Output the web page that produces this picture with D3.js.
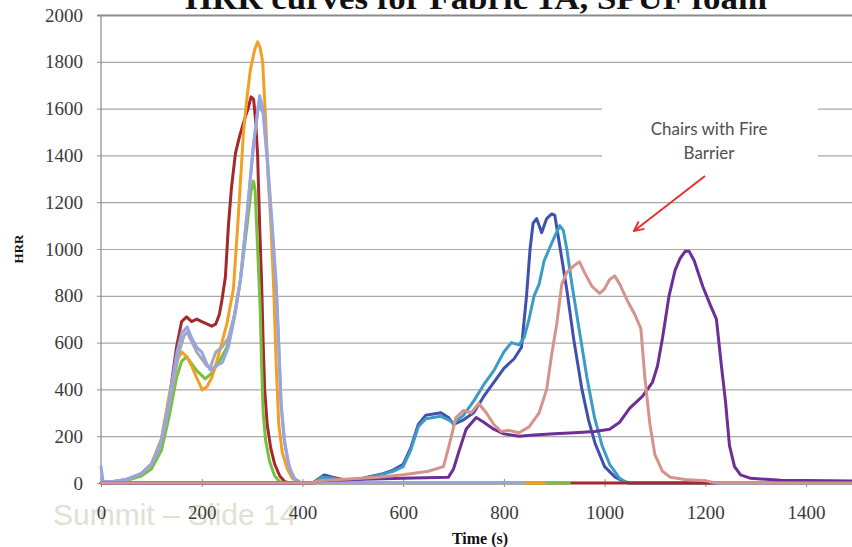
<!DOCTYPE html>
<html>
<head>
<meta charset="utf-8">
<script src="https://cdn.jsdelivr.net/npm/d3@7"></script>
<style>
  body { margin: 0; background: #fff; }
  svg { display: block; }
  .serif { font-family: "Liberation Serif", "Times New Roman", serif; }
</style>
</head>
<body>
<div class="canvas"></div>
<script>
// tick labels
const xTicks = [0, 200, 400, 600, 800, 1000, 1200, 1400];
const yTicks = [0, 200, 400, 600, 800, 1000, 1200, 1400, 1600, 1800, 2000];

// chairs without barrier  [time s, HRR kW]
const redSeries = [[0,0],[20,3],[50,12],[80,40],[100,80],[120,180],[135,350],[150,580],[160,690],[170,710],[180,690],[190,700],[200,690],[210,680],[220,670],[228,680],[235,720],[240,780],[247,880],[253,1100],[259,1260],[267,1410],[275,1480],[283,1540],[292,1600],[298,1650],[303,1640],[307,1550],[311,1400],[315,1100],[319,850],[322,600],[325,400],[330,250],[337,150],[345,80],[355,30],[365,5],[375,0],[1220,0]];
const greenSeries = [[0,0],[20,3],[50,10],[80,30],[100,60],[120,140],[135,280],[150,450],[160,520],[170,540],[180,510],[190,480],[200,460],[207,445],[220,470],[235,520],[250,580],[262,680],[277,870],[290,1100],[298,1250],[303,1290],[306,1250],[310,1050],[313,900],[316,750],[319,500],[322,300],[327,180],[335,90],[345,30],[355,5],[365,0],[930,0]];
const orangeSeries = [[0,0],[20,3],[50,12],[80,40],[100,80],[120,190],[135,370],[150,520],[160,560],[170,540],[180,500],[190,450],[201,398],[210,410],[220,450],[230,520],[240,600],[250,680],[256,750],[263,830],[273,1150],[283,1500],[290,1650],[297,1770],[305,1850],[311,1885],[316,1860],[321,1800],[327,1550],[332,1300],[337,1120],[343,830],[348,500],[353,250],[360,130],[370,60],[380,20],[390,5],[400,0],[880,0]];
const graySeries = [[0,0],[20,5],[50,15],[80,40],[100,80],[115,140],[125,220],[135,330],[145,440],[155,560],[165,630],[171,645],[190,560],[210,500],[217,495],[228,560],[240,580],[253,620],[265,720],[277,870],[290,1150],[303,1450],[313,1620],[322,1580],[330,1380],[340,1080],[348,820],[353,580],[358,330],[365,170],[374,70],[384,20],[398,0],[420,0]];
const lavenderSeries = [[0,70],[4,8],[20,5],[50,15],[80,40],[100,80],[120,180],[135,350],[150,550],[160,640],[171,667],[180,620],[190,580],[200,560],[210,510],[217,483],[228,500],[241,515],[253,580],[267,730],[277,870],[290,1150],[303,1450],[315,1655],[322,1600],[330,1400],[340,1100],[348,850],[353,600],[357,350],[363,200],[371,90],[380,30],[390,5],[400,0],[840,0]];

// chairs with fire barrier
const blueSeries = [[0,0],[420,0],[430,15],[443,34],[460,25],[480,15],[500,15],[520,20],[540,30],[560,40],[580,55],[600,80],[615,150],[630,250],[645,290],[660,295],[675,300],[690,280],[700,250],[720,270],[740,300],[760,370],[780,430],[800,490],[820,530],[835,580],[845,800],[852,1000],[858,1110],[865,1130],[875,1070],[885,1130],[895,1150],[901,1145],[912,1000],[925,825],[939,610],[955,400],[968,270],[981,170],[1000,70],[1021,25],[1040,5],[1050,0],[1500,0]];
const tealSeries = [[0,0],[420,0],[440,25],[460,20],[480,12],[500,12],[520,18],[540,28],[560,38],[580,50],[600,70],[615,140],[630,240],[645,275],[660,280],[675,285],[690,270],[700,255],[720,290],[740,350],[760,420],[780,480],[800,560],[815,600],[830,590],[840,620],[850,700],[860,800],[870,850],[880,950],[890,1000],[900,1050],[911,1100],[918,1080],[925,1000],[935,850],[950,650],[965,450],[980,280],[995,160],[1010,80],[1030,20],[1045,0],[1500,0]];
const purpleSeries = [[0,0],[420,0],[430,10],[500,15],[600,20],[690,25],[700,60],[710,130],[725,230],[745,280],[760,260],[780,230],[800,210],[830,200],[860,205],[900,210],[940,215],[980,220],[1010,230],[1030,260],[1050,320],[1075,370],[1095,430],[1105,500],[1115,620],[1128,800],[1140,910],[1150,960],[1160,990],[1168,990],[1178,950],[1195,840],[1210,760],[1222,700],[1232,500],[1240,350],[1248,160],[1258,70],[1270,35],[1290,20],[1350,12],[1500,8]];
const salmonSeries = [[0,0],[420,0],[430,10],[500,18],[550,25],[600,35],[650,50],[680,70],[690,150],[705,280],[720,310],[735,300],[750,340],[765,300],[780,250],[795,220],[810,225],[830,215],[850,240],[870,300],[885,400],[895,550],[905,680],[915,850],[925,900],[940,930],[950,945],[960,900],[975,840],[990,810],[1000,830],[1010,870],[1020,885],[1030,850],[1045,780],[1060,720],[1072,660],[1080,450],[1090,250],[1100,120],[1115,50],[1130,25],[1160,15],[1200,10],[1220,0],[1500,0]];

// drawing order (bottom to top) and colours
const seriesList = [
  {data: blueSeries, color: '#4150ae'},
  {data: tealSeries, color: '#3b9cc7'},
  {data: redSeries, color: '#a3292c'},
  {data: greenSeries, color: '#78bf3f'},
  {data: orangeSeries, color: '#f2a024'},
  {data: graySeries, color: '#a7a8b4'},
  {data: lavenderSeries, color: '#98a5e0'},
  {data: purpleSeries, color: '#6d2f96'},
  {data: salmonSeries, color: '#d6938c'}
];

const width = 852, height = 547;
const plotLeft = 101, plotRight = 852;

const svg = d3.select('.canvas')
  .append('svg')
  .attr('width', width)
  .attr('height', height);

const x = d3.scaleLinear().domain([0, 1500]).range([101, 856.4]);
const y = d3.scaleLinear().domain([0, 2000]).range([483, 15]);

// watermark sits under everything
svg.append('text')
  .attr('x', 53)
  .attr('y', 525)
  .style('font-family', '"Liberation Sans", Arial, sans-serif')
  .style('font-size', '30px')
  .attr('fill', '#e2e0d0')
  .text('Summit – Slide 14');

// gridlines
const grid = svg.append('g')
  .attr('transform', `translate(${plotLeft},0)`)
  .call(d3.axisLeft(y).tickValues(yTicks).tickSize(-(plotRight - plotLeft)).tickFormat(''));
grid.select('.domain').remove();
grid.selectAll('.tick line')
  .attr('stroke', d => d === 2000 ? '#8a8a8a' : '#a8a8a8')
  .attr('stroke-width', d => d === 2000 ? 2 : 1.2)
  .attr('x1', -4);

// y axis
const yAxisGroup = svg.append('g')
  .attr('transform', `translate(${plotLeft},0)`)
  .call(d3.axisLeft(y).tickValues(yTicks).tickSize(0).tickPadding(18).tickFormat(d3.format('d')));
yAxisGroup.select('.domain').remove();
yAxisGroup.selectAll('text')
  .attr('class', 'serif')
  .style('font-family', '"Liberation Serif", "Times New Roman", serif')
  .style('font-size', '19px')
  .attr('fill', '#3a3a3a');

svg.append('line')
  .attr('x1', plotLeft).attr('x2', plotLeft)
  .attr('y1', y(2000)).attr('y2', y(0))
  .attr('stroke', '#8a8a8a').attr('stroke-width', 1.2);

// x axis
const xAxisGroup = svg.append('g')
  .attr('transform', `translate(0,${y(0)})`)
  .call(d3.axisBottom(x).tickValues(xTicks).tickSize(4).tickFormat(d3.format('d')));
xAxisGroup.select('.domain').remove();
xAxisGroup.selectAll('.tick line')
  .attr('y1', -4).attr('y2', 4)
  .attr('stroke', '#8a8a8a');
xAxisGroup.selectAll('text')
  .attr('y', 22.5)
  .attr('class', 'serif')
  .style('font-family', '"Liberation Serif", "Times New Roman", serif')
  .style('font-size', '19px')
  .attr('fill', '#3a3a3a');

svg.append('line')
  .attr('x1', plotLeft).attr('x2', plotRight)
  .attr('y1', y(0)).attr('y2', y(0))
  .attr('stroke', '#8a8a8a').attr('stroke-width', 1.2);

// series
const line = d3.line()
  .x(d => x(d[0]))
  .y(d => y(d[1]))
  .curve(d3.curveLinear);

svg.append('g')
  .selectAll('path')
  .data(seriesList)
  .enter()
  .append('path')
  .attr('d', d => line(d.data))
  .attr('fill', 'none')
  .attr('stroke', d => d.color)
  .attr('stroke-width', 3)
  .attr('stroke-linejoin', 'round')
  .attr('stroke-linecap', 'round');

// title, cut off at the top
svg.append('text')
  .attr('x', 476)
  .attr('y', 9)
  .attr('text-anchor', 'middle')
  .style('font-family', '"Liberation Serif", "Times New Roman", serif')
  .style('font-weight', 'bold')
  .style('font-size', '32px')
  .attr('textLength', 582)
  .attr('lengthAdjust', 'spacingAndGlyphs')
  .attr('fill', '#111')
  .text('HRR curves for Fabric 1A, SPUF foam');

// axis titles
svg.append('text')
  .attr('transform', 'translate(23,249) rotate(-90)')
  .attr('text-anchor', 'middle')
  .style('font-family', '"Liberation Serif", "Times New Roman", serif')
  .style('font-weight', 'bold')
  .style('font-size', '13px')
  .attr('fill', '#111')
  .text('HRR');

svg.append('text')
  .attr('x', 480)
  .attr('y', 544)
  .attr('text-anchor', 'middle')
  .style('font-family', '"Liberation Serif", "Times New Roman", serif')
  .style('font-weight', 'bold')
  .style('font-size', '16px')
  .attr('fill', '#111')
  .text('Time (s)');

// annotation box
svg.append('rect')
  .attr('x', 602).attr('y', 80)
  .attr('width', 216).attr('height', 95)
  .attr('fill', '#fff');

const note = svg.append('text')
  .attr('text-anchor', 'middle')
  .style('font-family', 'Lato, "Open Sans", sans-serif')
  .style('font-size', '17px')
  .attr('fill', '#505050');
note.append('tspan').attr('x', 709).attr('y', 135).text('Chairs with Fire');
note.append('tspan').attr('x', 709).attr('y', 159).text('Barrier');

// red arrow
svg.append('defs').append('marker')
  .attr('id', 'arrow')
  .attr('viewBox', '0 0 10 10')
  .attr('refX', 9).attr('refY', 5)
  .attr('markerWidth', 6).attr('markerHeight', 6)
  .attr('orient', 'auto')
  .append('path')
  .attr('d', 'M1,1 L9,5 L1,9')
  .attr('fill', 'none')
  .attr('stroke', '#e8302e')
  .attr('stroke-width', 1.6);

svg.append('line')
  .attr('x1', 705).attr('y1', 176)
  .attr('x2', 634).attr('y2', 231)
  .attr('stroke', '#e8302e')
  .attr('stroke-width', 2)
  .attr('marker-end', 'url(#arrow)');
</script>
</body>
</html>
